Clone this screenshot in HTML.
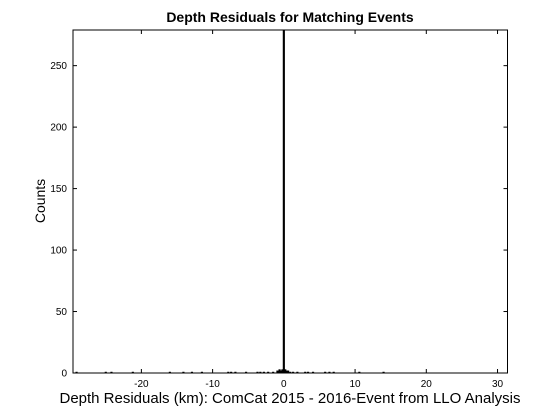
<!DOCTYPE html>
<html><head><meta charset="utf-8"><style>
body{margin:0;background:#fff;}
svg{display:block;font-family:"Liberation Sans",Arial,sans-serif;}
</style></head><body>
<svg id="chart" width="560" height="420">
<rect width="560" height="420" fill="#fff"/>
<defs><clipPath id="plotclip"><rect x="73" y="30" width="434.5" height="343"/></clipPath></defs>
<g id="bars" clip-path="url(#plotclip)"></g>
<g id="axes"></g>
<text x="290" y="22" text-anchor="middle" font-size="14" font-weight="bold">Depth Residuals for Matching Events</text>
<text x="290" y="403" text-anchor="middle" font-size="15">Depth Residuals (km): ComCat 2015 - 2016-Event from LLO Analysis</text>
<text transform="translate(45,201) rotate(-90)" text-anchor="middle" font-size="14">Counts</text>
</svg>
<script>
const binCenters = [-29.1,-25,-24.2,-21.2,-16,-14.1,-12.9,-11.5,-7.8,-7.4,-6.8,-5.3,-3.7,-3.3,-2.8,-2.2,-1.5,-0.9,-0.6,-0.4,-0.2,0,0.2,0.4,0.6,0.9,1.3,1.9,3,3.4,4.1,5.8,6.4,7,10.6,14];
const binCounts = [1,1,1,1,1,1,1,1,1,1,1,1,1,1,1,1,1,2,3,2,3,300,3,2,2,1,1,1,1,1,1,1,1,1,1,1];
const xTicks = [-20,-10,0,10,20,30];
const yTicks = [0,50,100,150,200,250];
const binWidth = 0.3;
const X0=73,X1=507.5,Y0=373,Y1=30,xmin=-29.6,xmax=31.4,ymin=0,ymax=279;
const xs=v=>X0+(v-xmin)/(xmax-xmin)*(X1-X0);
const ys=v=>Y0-(v-ymin)/(ymax-ymin)*(Y0-Y1);
const NS="http://www.w3.org/2000/svg";
function mk(tag,attrs,parent){const e=document.createElementNS(NS,tag);for(const k in attrs)e.setAttribute(k,attrs[k]);parent.appendChild(e);return e;}
const bars=document.getElementById('bars'),axes=document.getElementById('axes');
binCenters.forEach((c,i)=>{
  const x=xs(c-binWidth/2),w=Math.max(xs(c+binWidth/2)-x,1.5);
  const r=mk('rect',{x:x,y:ys(binCounts[i]),width:w,height:ys(0)-ys(binCounts[i]),fill:'#000'},bars);
  
  
});
const box=mk('rect',{x:X0,y:Y1,width:X1-X0,height:Y0-Y1,fill:'none',stroke:'#000','stroke-width':1},axes);


xTicks.forEach(t=>{
  const x=xs(t);
  mk('line',{x1:x,x2:x,y1:Y0,y2:Y0-4,stroke:'#000'},axes);
  mk('line',{x1:x,x2:x,y1:Y1,y2:Y1+4,stroke:'#000'},axes);
  const tx=mk('text',{x:x,y:Y0+14,'text-anchor':'middle','font-size':10},axes);
  tx.textContent=t;
  
  
});
yTicks.forEach(t=>{
  const y=ys(t);
  mk('line',{x1:X0,x2:X0+4,y1:y,y2:y,stroke:'#000'},axes);
  mk('line',{x1:X1,x2:X1-4,y1:y,y2:y,stroke:'#000'},axes);
  const tx=mk('text',{x:X0-6,y:y+3.5,'text-anchor':'end','font-size':10},axes);
  tx.textContent=t;
  
  
});
</script>
</body></html>
